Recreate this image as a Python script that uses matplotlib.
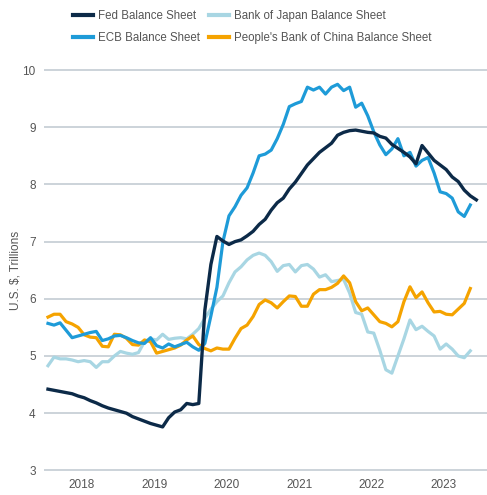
import numpy as np
import matplotlib.pyplot as plt

# monthly balance sheets, US$ trillions, from Jan 2018
fed = [4.42, 4.40, 4.38, 4.36, 4.34, 4.30, 4.27, 4.22, 4.18, 4.13, 4.09, 4.06,
       4.03, 4.00, 3.94, 3.90, 3.86, 3.82, 3.79, 3.76, 3.92, 4.02, 4.06, 4.17,
       4.15, 4.17, 5.80, 6.60, 7.09, 7.01, 6.95, 7.00, 7.03, 7.10, 7.18, 7.30,
       7.39, 7.55, 7.68, 7.76, 7.92, 8.04, 8.19, 8.34, 8.45, 8.56, 8.64, 8.72,
       8.86, 8.91, 8.94, 8.95, 8.93, 8.91, 8.90, 8.84, 8.81, 8.70, 8.63, 8.56,
       8.48, 8.36, 8.68, 8.55, 8.42, 8.34, 8.26, 8.13, 8.05, 7.90, 7.80, 7.73]

ecb = [5.57, 5.54, 5.58, 5.45, 5.32, 5.35, 5.38, 5.41, 5.43, 5.27, 5.30, 5.35,
       5.36, 5.32, 5.27, 5.23, 5.22, 5.32, 5.18, 5.14, 5.21, 5.16, 5.20, 5.24,
       5.16, 5.10, 5.22, 5.70, 6.20, 7.00, 7.45, 7.61, 7.81, 7.94, 8.20, 8.50,
       8.53, 8.60, 8.80, 9.05, 9.36, 9.41, 9.45, 9.70, 9.65, 9.70, 9.58, 9.70,
       9.75, 9.64, 9.70, 9.35, 9.42, 9.20, 8.92, 8.69, 8.52, 8.62, 8.80, 8.50,
       8.56, 8.32, 8.42, 8.47, 8.20, 7.87, 7.84, 7.76, 7.52, 7.44, 7.64]

boj = [4.83, 4.98, 4.95, 4.95, 4.93, 4.90, 4.92, 4.90, 4.80, 4.90, 4.90, 5.00,
       5.08, 5.05, 5.03, 5.06, 5.25, 5.30, 5.28, 5.38, 5.29, 5.31, 5.32, 5.30,
       5.38, 5.48, 5.66, 5.82, 5.95, 6.05, 6.28, 6.47, 6.56, 6.68, 6.76, 6.80,
       6.76, 6.65, 6.48, 6.58, 6.60, 6.47, 6.58, 6.60, 6.52, 6.38, 6.42, 6.30,
       6.32, 6.34, 6.10, 5.76, 5.73, 5.42, 5.40, 5.10, 4.76, 4.70, 5.00, 5.30,
       5.63, 5.46, 5.52, 5.43, 5.35, 5.12, 5.21, 5.12, 5.00, 4.97, 5.09]

pboc = [5.68, 5.73, 5.73, 5.60, 5.56, 5.50, 5.37, 5.33, 5.32, 5.17, 5.16, 5.38,
        5.37, 5.31, 5.20, 5.19, 5.28, 5.25, 5.05, 5.08, 5.11, 5.14, 5.19, 5.28,
        5.35, 5.20, 5.13, 5.09, 5.14, 5.12, 5.12, 5.31, 5.48, 5.54, 5.69, 5.90,
        5.98, 5.93, 5.84, 5.95, 6.05, 6.04, 5.87, 5.87, 6.08, 6.16, 6.16, 6.20,
        6.27, 6.40, 6.28, 5.95, 5.79, 5.84, 5.72, 5.60, 5.57, 5.51, 5.60, 5.95,
        6.21, 6.02, 6.12, 5.93, 5.77, 5.78, 5.73, 5.72, 5.82, 5.92, 6.18]

years = [2018, 2019, 2020, 2021, 2022, 2023]
yticks = [3, 4, 5, 6, 7, 8, 9, 10]

plt.rcParams["font.family"] = ["Liberation Sans", "DejaVu Sans"]

fig = plt.figure(figsize=(4.87, 4.95), dpi=100)
ax = fig.add_axes([44 / 487, 1 - 472.1 / 495, 443 / 487, 403.8 / 495])


def months(vals):
    return 2018 + np.arange(len(vals)) / 12


# draw order: lighter series underneath
ax.plot(months(boj), boj, color="#A8D6E3", lw=2.3, label="Bank of Japan Balance Sheet", zorder=3)
ax.plot(months(pboc), pboc, color="#F5A300", lw=2.3, label="People's Bank of China Balance Sheet", zorder=4)
ax.plot(months(ecb), ecb, color="#1E9BD8", lw=2.3, label="ECB Balance Sheet", zorder=5)
ax.plot(months(fed), fed, color="#0C2A48", lw=2.4, label="Fed Balance Sheet", zorder=6)

ax.set_xlim(2017.945, 2024.064)
ax.set_ylim(2.97, 10.03)
ax.set_yticks(yticks)
ax.set_xticks([y + 0.47 for y in years])
ax.set_xticklabels([str(y) for y in years])
ax.tick_params(length=0, labelsize=8.5, labelcolor="#555555")
ax.tick_params(axis="y", pad=6)
ax.tick_params(axis="x", pad=5)
ax.grid(axis="y", color="#C3CCD3", lw=1.2)
ax.set_axisbelow(True)
for s in ax.spines.values():
    s.set_visible(False)
ax.set_ylabel("U.S. $, Trillions", fontsize=8.5, color="#555555", labelpad=1)

# legend fills column by column: Fed, ECB | BoJ, PBoC
handles, labels = ax.get_legend_handles_labels()
order = [3, 2, 0, 1]
fig.legend([handles[i] for i in order], [labels[i] for i in order],
           loc="upper left", bbox_to_anchor=(73 / 487, 1 - 10 / 495), ncol=2,
           frameon=False, fontsize=8.3, labelcolor="#555555",
           handlelength=1.75, handletextpad=0.4, columnspacing=0.8,
           labelspacing=0.85, borderpad=0, borderaxespad=0)
for line in fig.legends[0].get_lines():
    line.set_linewidth(3)

fig.savefig("out.png", dpi=100)
